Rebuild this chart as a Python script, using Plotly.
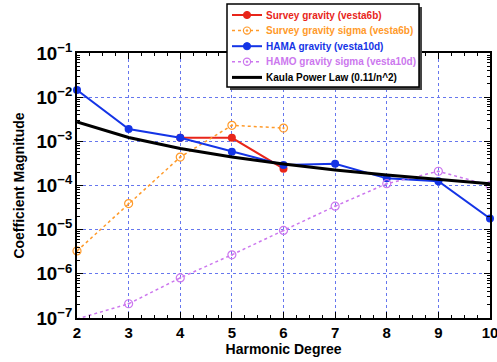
import plotly.graph_objects as go

degrees = [2, 3, 4, 5, 6, 7, 8, 9, 10]

survey_deg = [4, 5, 6]
survey_gravity = [1.2e-3, 1.2e-3, 2.4e-4]

survey_sigma_deg = [2, 3, 4, 5, 6]
survey_sigma = [3.3e-6, 3.9e-5, 4.4e-4, 2.3e-3, 2.0e-3]

hama_gravity = [1.45e-2, 1.9e-3, 1.2e-3, 5.8e-4, 2.9e-4, 3.1e-4, 1.45e-4, 1.25e-4, 1.8e-5]

hamo_sigma = [9.5e-8, 2.1e-7, 8.1e-7, 2.7e-6, 9.6e-6, 3.4e-5, 1.1e-4, 2.1e-4, 1.0e-4]

kaula = [2.75e-3, 1.22e-3, 6.9e-4, 4.4e-4, 3.06e-4, 2.24e-4, 1.72e-4, 1.36e-4, 1.1e-4]

x_ticks = [2, 3, 4, 5, 6, 7, 8, 9, 10]

legend_names = ["Survey gravity (vesta6b)", "Survey gravity sigma (vesta6b)",
                "HAMA gravity (vesta10d)", "HAMO gravity sigma (vesta10d)",
                "Kaula Power Law (0.11/n^2)"]

RED = "#e8251a"
ORANGE = "#ff9a2a"
BLUE = "#1434e6"
VIOLET = "#cc77ee"
FONT = "Liberation Sans"
MS = 8

fig = go.Figure()
fig.add_trace(go.Scatter(
    x=survey_deg, y=survey_gravity, name=legend_names[0],
    mode="lines+markers", line=dict(color=RED, width=2),
    marker=dict(symbol="circle", size=MS, color=RED), cliponaxis=False))
fig.add_trace(go.Scatter(
    x=survey_sigma_deg, y=survey_sigma, name=legend_names[1],
    mode="lines+markers", line=dict(color=ORANGE, width=1.5, dash="dot"),
    marker=dict(symbol="circle-open-dot", size=MS, color=ORANGE, line=dict(width=1.2)),
    cliponaxis=False))
fig.add_trace(go.Scatter(
    x=degrees, y=hama_gravity, name=legend_names[2],
    mode="lines+markers", line=dict(color=BLUE, width=2),
    marker=dict(symbol="circle", size=MS, color=BLUE), cliponaxis=False))
fig.add_trace(go.Scatter(
    x=degrees, y=hamo_sigma, name=legend_names[3],
    mode="lines+markers", line=dict(color=VIOLET, width=1.5, dash="dot"),
    marker=dict(symbol="circle-open-dot", size=MS, color=VIOLET, line=dict(width=1.2)),
    cliponaxis=True))
fig.add_trace(go.Scatter(
    x=degrees, y=kaula, name=legend_names[4],
    mode="lines", line=dict(color="black", width=3)))

fig.update_layout(
    width=497, height=362,
    margin=dict(l=77, r=7, t=53, b=44, autoexpand=False),
    paper_bgcolor="white", plot_bgcolor="white",
    font=dict(family=FONT, size=14, color="black"),
    showlegend=False,
    xaxis=dict(
        range=[2, 10], tickvals=x_ticks, ticktext=[str(v) for v in x_ticks],
        ticks="inside", ticklen=6, tickcolor="black",
        showline=True, linecolor="black", linewidth=1.5, mirror="allticks",
        showgrid=True, gridcolor="#6677ee", griddash="dot", gridwidth=1,
        zeroline=False, ticklabeloverflow="allow",
        tickfont=dict(family=FONT, size=15, weight="bold"),
        title=dict(text="Harmonic Degree", font=dict(family=FONT, size=14, weight="bold"), standoff=4),
        minor=dict(ticks="inside", ticklen=3, dtick=0.25, tickcolor="black", showgrid=False),
    ),
    yaxis=dict(
        type="log", range=[-7, -1], dtick=1, exponentformat="power",
        ticks="inside", ticklen=6, tickcolor="black",
        showline=True, linecolor="black", linewidth=1.5, mirror="allticks",
        showgrid=True, gridcolor="#6677ee", griddash="dot", gridwidth=1,
        zeroline=False, ticklabeloverflow="allow",
        tickfont=dict(family=FONT, size=15, weight="bold"),
        title=dict(text="Coefficient Magnitude", font=dict(family=FONT, size=14, weight="bold"), standoff=9),
        minor=dict(ticks="inside", ticklen=3, dtick="D1", tickcolor="black", showgrid=False),
    ),
)

# ---- legend box (drawn in paper coordinates) ----
PX0, PW, PY1, PH = 77, 413, 318, 265


def xp(px):
    return (px - PX0) / PW


def yp(py):
    return (PY1 - py) / PH


fig.add_shape(type="rect", xref="paper", yref="paper",
              x0=xp(230), x1=xp(422), y0=yp(90), y1=yp(7),
              fillcolor="#444444", line=dict(width=0), layer="above")
fig.add_shape(type="rect", xref="paper", yref="paper",
              x0=xp(227), x1=xp(419), y0=yp(87), y1=yp(4),
              fillcolor="white", line=dict(color="black", width=1.5), layer="above")

rows = [15, 30.6, 46.2, 61.8, 77.4]
styles = [
    (RED, "solid", 2, "filled"),
    (ORANGE, "dot", 1.5, "open"),
    (BLUE, "solid", 2, "filled"),
    (VIOLET, "dot", 1.5, "open"),
    ("black", "solid", 3, None),
]
for name, ry, (col, dash, lw, mk) in zip(legend_names, rows, styles):
    fig.add_shape(type="line", xref="paper", yref="paper",
                  x0=xp(232), x1=xp(262), y0=yp(ry), y1=yp(ry),
                  line=dict(color=col, width=lw, dash=dash), layer="above")
    if mk == "filled":
        fig.add_shape(type="circle", xref="paper", yref="paper",
                      xsizemode="pixel", ysizemode="pixel",
                      xanchor=xp(247), yanchor=yp(ry),
                      x0=-3.6, x1=3.6, y0=-3.6, y1=3.6,
                      fillcolor=col, line=dict(color=col, width=1), layer="above")
    elif mk == "open":
        fig.add_shape(type="circle", xref="paper", yref="paper",
                      xsizemode="pixel", ysizemode="pixel",
                      xanchor=xp(247), yanchor=yp(ry),
                      x0=-3.6, x1=3.6, y0=-3.6, y1=3.6,
                      fillcolor="white", line=dict(color=col, width=1.2), layer="above")
        fig.add_shape(type="circle", xref="paper", yref="paper",
                      xsizemode="pixel", ysizemode="pixel",
                      xanchor=xp(247), yanchor=yp(ry),
                      x0=-1, x1=1, y0=-1, y1=1,
                      fillcolor=col, line=dict(color=col, width=0.5), layer="above")
    fig.add_annotation(x=xp(264), y=yp(ry), xref="paper", yref="paper",
                       text=name, showarrow=False, xanchor="left", yanchor="middle",
                       font=dict(family=FONT, size=10, color=col, weight="bold"))

fig.write_html("out.html", config={"displayModeBar": False},
               post_script="document.body.style.margin='0px';document.body.style.overflow='hidden';")
